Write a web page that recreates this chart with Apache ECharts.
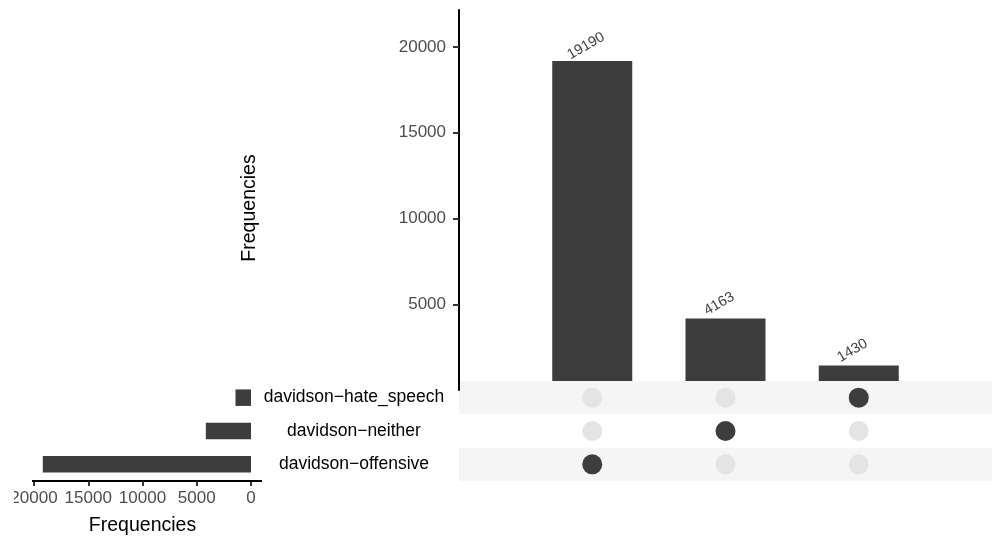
<!DOCTYPE html>
<html>
<head>
<meta charset="utf-8">
<script src="https://cdn.jsdelivr.net/npm/echarts@6/dist/echarts.min.js"></script>
<style>
  html, body { margin: 0; padding: 0; background: #ffffff; }
  #chart { width: 994px; height: 540px; }
</style>
</head>
<body>
<div id="chart"></div>
<script>
// Sets, listed top to bottom in the matrix
const setNames = ['davidson−hate_speech', 'davidson−neither', 'davidson−offensive'];
const setSizes = [1430, 4163, 19190];

// Intersections, left to right, with the set each one belongs to
const intersectionSets = ['davidson−offensive', 'davidson−neither', 'davidson−hate_speech'];
const intersectionCounts = [19190, 4163, 1430];

// Tick values on the two frequency axes
const mainTicks = [5000, 10000, 15000, 20000];
const sideTicks = [0, 5000, 10000, 15000, 20000];

const FONT = '"Liberation Sans", Arial, Helvetica, sans-serif';
const DARK = '#3d3d3d';
const LIGHT_DOT = '#e4e4e4';
const BAND_COLORS = ['#f5f5f5', '#ffffff'];

const chart = echarts.init(document.getElementById('chart'), null, { renderer: 'canvas' });

const nSlots = intersectionCounts.length + 1;

// Intersection bars sit at positions 1..n on a 0..n+1 value axis
const barData = intersectionCounts.map((v, i) => [i + 1, v]);

// Matrix row shading, alternating from the top row
const bandData = setNames.map((name, i) => ({
  value: [nSlots, name],
  itemStyle: { color: BAND_COLORS[i % 2] }
}));

// Matrix dots: one per (intersection, set) pair, dark where the set is a member
const dotData = [];
intersectionSets.forEach((member, i) => {
  setNames.forEach(name => {
    const on = name === member;
    dotData.push({
      value: [i + 1, name],
      itemStyle: { color: on ? DARK : LIGHT_DOT, opacity: 1 }
    });
  });
});

const plain = v => String(v);

const option = {
  backgroundColor: '#ffffff',
  animation: false,
  textStyle: { fontFamily: FONT },
  grid: [
    { left: 459, top: 10, width: 533, height: 380 },   // intersection sizes
    { left: 459, top: 381, width: 533, height: 100 },  // membership matrix
    { left: 34, top: 381, width: 217, height: 100 }    // set sizes
  ],
  xAxis: [
    { gridIndex: 0, type: 'value', min: 0, max: nSlots, show: false },
    { gridIndex: 1, type: 'value', min: 0, max: nSlots, show: false },
    {
      gridIndex: 2, type: 'value', min: 0, max: 20000, inverse: true,
      position: 'bottom',
      axisLine: { show: true, lineStyle: { color: '#000000', width: 2 } },
      axisTick: { show: true, length: 5, customValues: sideTicks, lineStyle: { color: '#333333', width: 2 } },
      axisLabel: { color: '#4d4d4d', fontSize: 17, margin: 9, customValues: sideTicks, formatter: plain, fontFamily: FONT },
      splitLine: { show: false },
      name: 'Frequencies', nameLocation: 'middle', nameGap: 35,
      nameTextStyle: { color: '#000000', fontSize: 19.5, fontFamily: FONT }
    }
  ],
  yAxis: [
    {
      gridIndex: 0, type: 'value', min: 0, max: 22160, z: 5,
      axisLine: { show: true, lineStyle: { color: '#000000', width: 2 } },
      axisTick: { show: true, length: 6, customValues: mainTicks, lineStyle: { color: '#333333', width: 2 } },
      axisLabel: { color: '#4d4d4d', fontSize: 17, margin: 13, customValues: mainTicks, formatter: plain, fontFamily: FONT },
      splitLine: { show: false }
    },
    {
      gridIndex: 1, type: 'category', data: setNames, inverse: true, z: 6,
      axisLine: { show: false },
      axisTick: { show: false },
      axisLabel: { color: '#000000', fontSize: 17.5, align: 'center', margin: 105, fontFamily: FONT },
      splitLine: { show: false }
    },
    {
      gridIndex: 2, type: 'category', data: setNames, inverse: true, show: false
    }
  ],
  series: [
    {
      type: 'bar', xAxisIndex: 0, yAxisIndex: 0, data: barData, barWidth: 80,
      itemStyle: { color: DARK },
      label: {
        show: true, position: 'top', distance: 0, rotate: 30,
        align: 'center', verticalAlign: 'middle', offset: [2, -16],
        fontSize: 14.5, color: '#404040', fontFamily: FONT,
        formatter: p => String(p.value[1])
      },
      z: 2
    },
    {
      // row shading drawn over the foot of the intersection bars
      type: 'bar', xAxisIndex: 1, yAxisIndex: 1, data: bandData,
      barWidth: '100%', silent: true, z: 3
    },
    {
      type: 'scatter', xAxisIndex: 1, yAxisIndex: 1, data: dotData,
      symbol: 'circle', symbolSize: 20, z: 4
    },
    {
      type: 'bar', xAxisIndex: 2, yAxisIndex: 2, data: setSizes, barWidth: 16.5,
      itemStyle: { color: DARK }, z: 2
    }
  ],
  graphic: [
    {
      type: 'text', x: 250, y: 208, rotation: Math.PI / 2, z: 10,
      style: {
        text: 'Frequencies', fill: '#000000', font: '19.5px ' + FONT,
        align: 'center', verticalAlign: 'middle'
      }
    },
    // bottom axis line continues a little past both ends of its range
    { type: 'line', z: 10, shape: { x1: 250, y1: 481, x2: 262, y2: 481 }, style: { stroke: '#000000', lineWidth: 2 } },
    { type: 'line', z: 10, shape: { x1: 32, y1: 481, x2: 35, y2: 481 }, style: { stroke: '#000000', lineWidth: 2 } },
    // panel edge clips the far-left tick label
    { type: 'rect', z: 10, shape: { x: 0, y: 488, width: 14, height: 22 }, style: { fill: '#ffffff' } }
  ]
};

chart.setOption(option);
</script>
</body>
</html>
